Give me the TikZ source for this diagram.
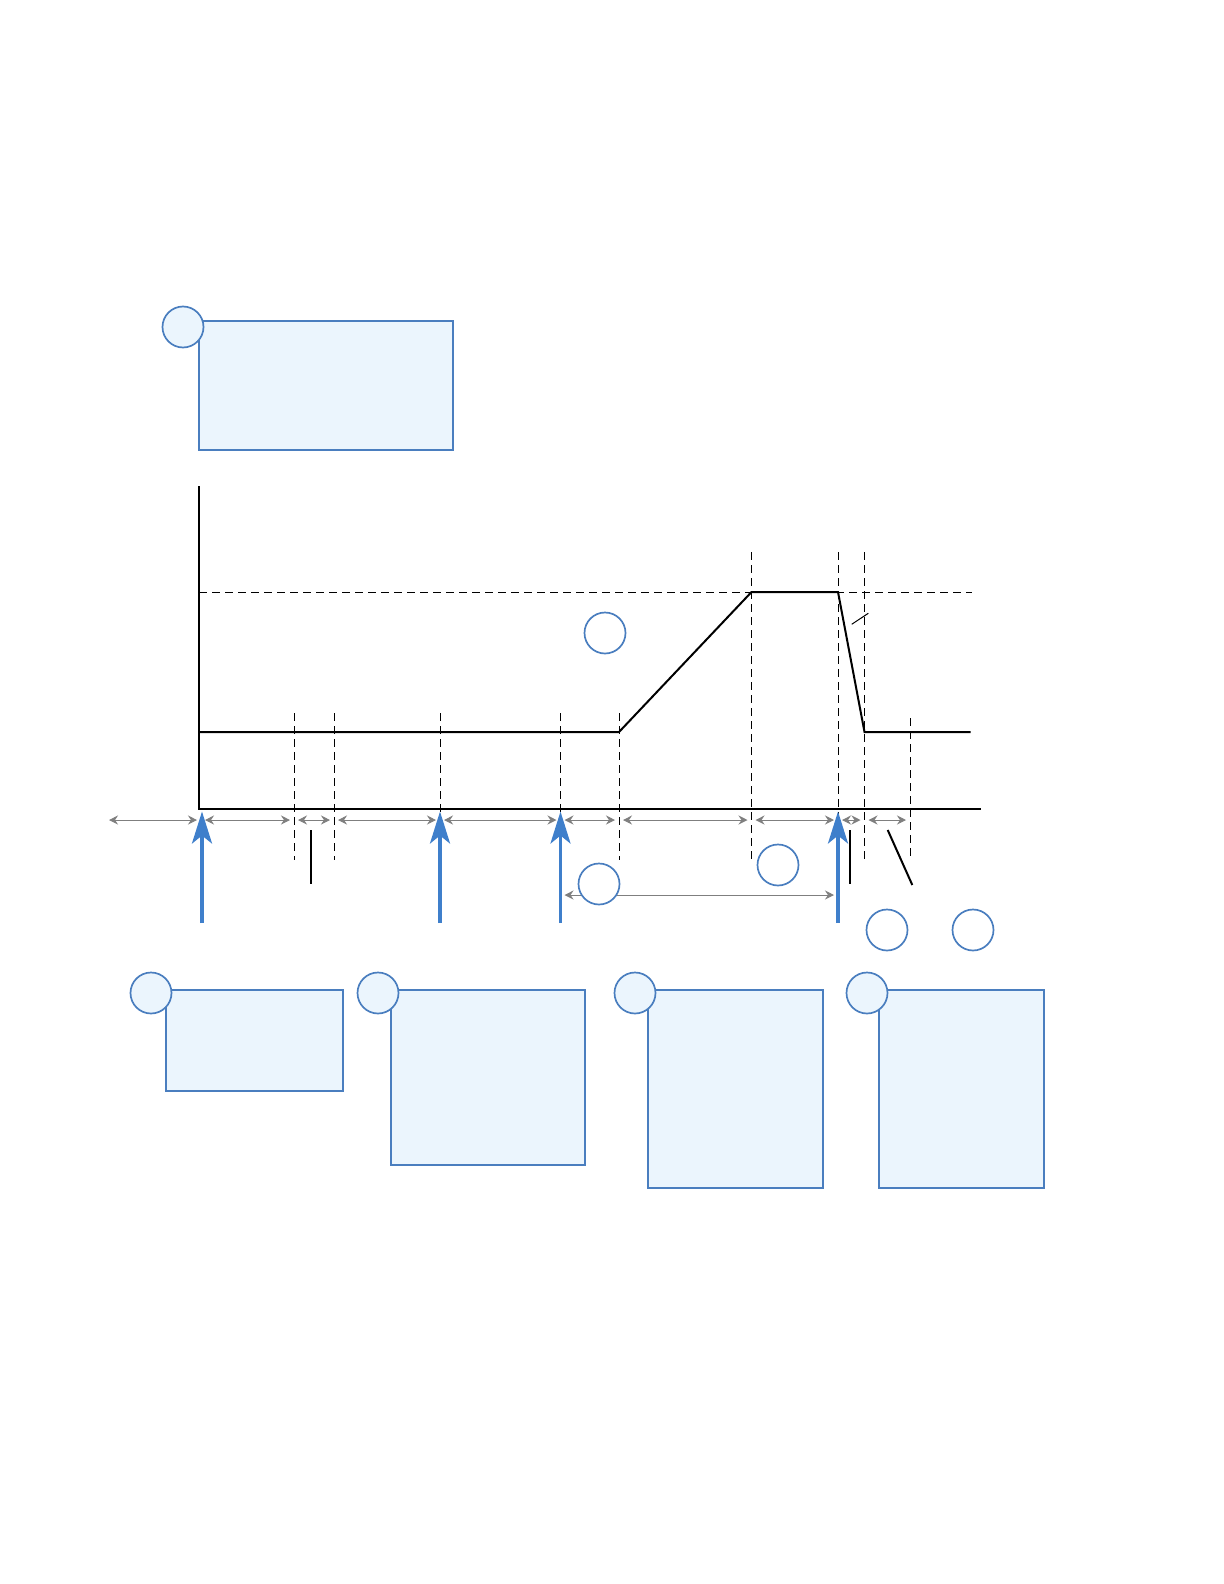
\documentclass[tikz,border=0pt]{standalone}
\usetikzlibrary{arrows.meta}
\definecolor{bborder}{HTML}{4A7EBF}
\definecolor{bfill}{HTML}{EBF5FD}
\definecolor{barrow}{HTML}{3F7FCB}
\definecolor{dimgray}{HTML}{7F7F7F}
\tikzset{
  panel/.style={draw=bborder, fill=bfill, line width=0.85pt, rectangle, inner sep=0pt, outer sep=0pt, anchor=north west},
  badge/.style={draw=bborder, fill=bfill, line width=0.85pt, circle, minimum size=20.5pt, inner sep=0pt},
  marker/.style={draw=bborder, fill=white, line width=0.85pt, circle, minimum size=20.5pt, inner sep=0pt},
  guide/.style={draw=black, line width=0.5pt, dash pattern=on 4pt off 2.5pt},
  signal/.style={draw=black, line width=1pt, line join=miter},
  axisline/.style={draw=black, line width=0.65pt},
  dimarrow/.style={draw=dimgray, line width=0.5pt, {Stealth[length=4.5pt,width=4.5pt,inset=1.5pt]}-{Stealth[length=4.5pt,width=4.5pt,inset=1.5pt]}, shorten <=2pt, shorten >=2pt},
  eventarrow/.style={draw=barrow, line width=1.8pt, -{Stealth[length=16pt,width=10pt,inset=4pt]}},
  tick/.style={draw=black, line width=1pt},
  thin/.style={draw=black, line width=0.5pt}
}
\begin{document}
\begin{tikzpicture}[x=0.5pt,y=-0.5pt]
\useasboundingbox (0,0) rectangle (1224,1584);
% key x positions
\coordinate (m0) at (105,820);
\coordinate (m1) at (201,820);
\coordinate (m2) at (294,820);
\coordinate (m3) at (334,820);
\coordinate (m4) at (440,820);
\coordinate (m5) at (560.5,820);
\coordinate (m6) at (619,820);
\coordinate (m7) at (751.5,820);
\coordinate (m8) at (838,820);
\coordinate (m9) at (864.5,820);
\coordinate (m10) at (910,820);
% dashed guides
\foreach \x/\t [count=\i] in {294/713,334/713,440/713,560.5/713,619/713,751.5/552,838/552,864.5/552,910/718}{
  \coordinate (gt\i) at (\x,\t);
  \coordinate (gb\i) at (\x,860);
  \draw[guide] (gt\i) -- (gb\i);
}
\coordinate (hl) at (199,592);
\coordinate (hr) at (971.5,592);
\draw[guide] (hl) -- (hr);
% signal
\coordinate (s0) at (199,732);
\coordinate (s1) at (619,732);
\coordinate (s2) at (751.5,592);
\coordinate (s3) at (838,592);
\coordinate (s4) at (864.5,732);
\coordinate (s5) at (970.5,732);
\draw[signal] (s0) -- (s1) -- (s2) -- (s3) -- (s4) -- (s5);
% axes
\coordinate (ytop) at (199,486);
\coordinate (orig) at (199,809);
\coordinate (xend) at (980.5,809);
\draw[axisline] (ytop) -- (orig) -- (xend);
% dimension arrows
\draw[dimarrow] (m0) -- (m1);
\draw[dimarrow] (m1) -- (m2);
\draw[dimarrow] (m2) -- (m3);
\draw[dimarrow] (m3) -- (m4);
\draw[dimarrow] (m4) -- (m5);
\draw[dimarrow] (m5) -- (m6);
\draw[dimarrow] (m6) -- (m7);
\draw[dimarrow] (m7) -- (m8);
\draw[dimarrow] (m8) -- (m9);
\draw[dimarrow] (m9) -- (m10);
\coordinate (la) at (560.5,895);
\coordinate (lb) at (838,895);
\draw[dimarrow] (la) -- (lb);
% event arrows
\foreach \x [count=\i] in {202,440,560.5,838}{
  \coordinate (eb\i) at (\x,923);
  \coordinate (et\i) at (\x,811.5);
  \draw[eventarrow] (eb\i) -- (et\i);
}
% short leader lines
\coordinate (t1a) at (311,830); \coordinate (t1b) at (311,884);
\draw[tick] (t1a) -- (t1b);
\coordinate (t2a) at (850,830); \coordinate (t2b) at (850,884);
\draw[tick] (t2a) -- (t2b);
\coordinate (t3a) at (887.7,830); \coordinate (t3b) at (912.3,885);
\draw[tick] (t3a) -- (t3b);
\coordinate (sla) at (851.7,624.3); \coordinate (slb) at (868.3,613.3);
\draw[thin] (sla) -- (slb);
% markers
\node[marker] (c1) at (605,633) {};
\node[marker] (c2) at (599,884) {};
\node[marker] (c3) at (778,865) {};
\node[marker] (c4) at (887,930) {};
\node[marker] (c5) at (973,930) {};
% panels
\node[panel, minimum width=127pt, minimum height=64.5pt] (p0) at (199,321) {};
\node[badge] (b0) at (183,327) {};
\node[panel, minimum width=88.5pt, minimum height=50.5pt] (p1) at (166,990) {};
\node[badge] (b1) at (151,993) {};
\node[panel, minimum width=97pt, minimum height=87.5pt] (p2) at (391,990) {};
\node[badge] (b2) at (378,993) {};
\node[panel, minimum width=87.5pt, minimum height=99pt] (p3) at (648,990) {};
\node[badge] (b3) at (635,993) {};
\node[panel, minimum width=82.5pt, minimum height=99pt] (p4) at (879,990) {};
\node[badge] (b4) at (867,993) {};
\end{tikzpicture}
\end{document}
